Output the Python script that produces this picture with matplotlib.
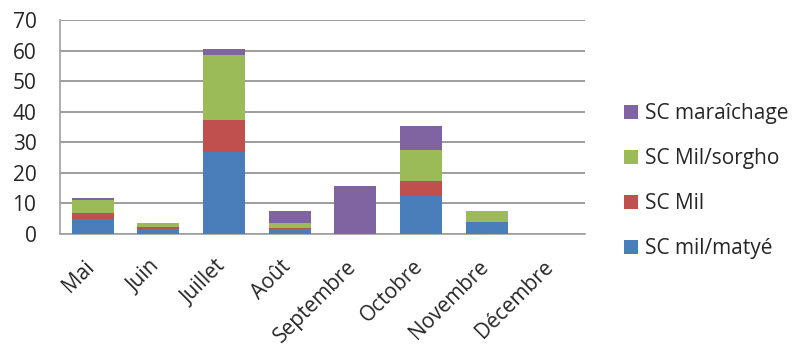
import matplotlib
matplotlib.use("Agg")
import matplotlib.pyplot as plt
import matplotlib.transforms as mtransforms
import numpy as np
from matplotlib.patches import Patch

plt.rcParams['font.family'] = ['Open Sans', 'DejaVu Sans']

months = ["Mai", "Juin", "Juillet", "Août", "Septembre", "Octobre", "Novembre", "Décembre"]
series_names = ["SC mil/matyé", "SC Mil", "SC Mil/sorgho", "SC maraîchage"]
mil_matye = [5.0, 1.7, 26.8, 1.6, 0.0, 12.3, 4.0, 0.0]
mil = [2.0, 0.5, 10.6, 0.5, 0.0, 5.1, 0.0, 0.0]
mil_sorgho = [4.0, 1.4, 21.1, 1.6, 0.0, 10.1, 3.5, 0.0]
maraichage = [0.8, 0.0, 2.1, 3.9, 15.8, 7.9, 0.0, 0.0]
colors = ["#4a7ebb", "#c0504d", "#9bbb59", "#8064a2"]
yticks = [0, 10, 20, 30, 40, 50, 60, 70]

fig = plt.figure(figsize=(7.95, 3.47), dpi=100)
ax = fig.add_axes([60/795, 1-234/347, 525/795, 214/347])

x = np.arange(len(months))
bottom = np.zeros(len(months))
for vals, c in zip([mil_matye, mil, mil_sorgho, maraichage], colors):
    v = np.array(vals)
    ax.bar(x, v, 0.64, bottom=bottom, color=c, edgecolor='none', zorder=3)
    bottom += v

ax.set_xlim(-0.5, len(months) - 0.5)
ax.set_ylim(0, 70)
ax.set_yticks(yticks)
ax.yaxis.grid(True, color='#8c8c8c', linewidth=1.2, zorder=0)
for s in ['top', 'right']:
    ax.spines[s].set_visible(False)
ax.spines['left'].set_color('#a0a0a0')
ax.spines['bottom'].set_color('#a0a0a0')
ax.spines['left'].set_linewidth(1.2)
ax.spines['bottom'].set_linewidth(1.2)
ax.tick_params(axis='both', length=0, labelsize=15, colors='#262626')
ax.tick_params(axis='y', pad=17)
ax.tick_params(axis='x', pad=16)
ax.set_xticks(x)
ax.set_xticklabels(months, rotation=45, ha='right', rotation_mode='anchor')
offset = mtransforms.ScaledTranslation(-9/100, 0, fig.dpi_scale_trans)
for lbl in ax.get_xticklabels():
    lbl.set_transform(lbl.get_transform() + offset)

handles = [Patch(facecolor=c, edgecolor='none') for c in colors][::-1]
labels = series_names[::-1]
fig.legend(handles, labels, loc='center left', bbox_to_anchor=(624/795, 1-181/347),
           frameon=False, fontsize=15, handlelength=0.65, handleheight=0.65,
           labelspacing=1.15, handletextpad=0.35, labelcolor='#262626',
           borderpad=0, borderaxespad=0)

fig.savefig("out.png", dpi=100)
